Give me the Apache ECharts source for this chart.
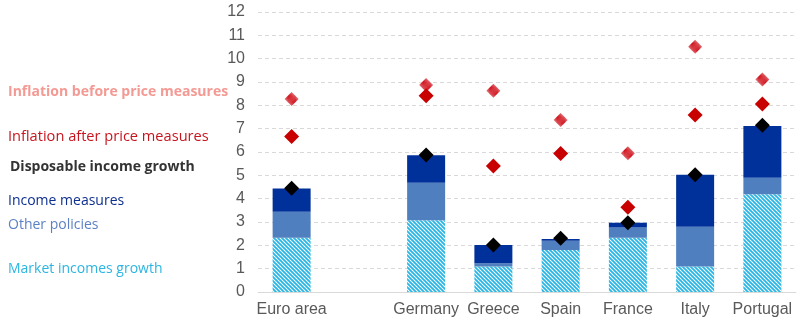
<!DOCTYPE html>
<html><head><meta charset="utf-8">
<script src="https://cdn.jsdelivr.net/npm/echarts@6/dist/echarts.min.js"></script>
<style>html,body{margin:0;padding:0;background:#fff}#c{width:804px;height:325px}</style>
</head><body><div id="c"></div>
<script>
const categories = ['Euro area', '', 'Germany', 'Greece', 'Spain', 'France', 'Italy', 'Portugal'];
const marketIncomes = [2.33, null, 3.07, 1.09, 1.80, 2.33, 1.09, 4.19];
const otherPolicies = [1.11, null, 1.61, 0.14, 0.40, 0.43, 1.71, 0.71];
const incomeMeasures = [1.00, null, 1.18, 0.78, 0.07, 0.21, 2.23, 2.21];
const disposableIncome = [4.45, null, 5.87, 2.01, 2.30, 2.97, 5.03, 7.15];
const inflationAfter = [6.66, null, 8.41, 5.40, 5.94, 3.63, 7.59, 8.06];
const inflationBefore = [8.27, null, 8.87, 8.63, 7.37, 5.95, 10.51, 9.11];
const yTicks = [0,1,2,3,4,5,6,7,8,9,10,11,12];

function stripes(fg, bg, p, lw) {
  const c = document.createElement('canvas');
  c.width = p; c.height = p;
  const g = c.getContext('2d');
  g.fillStyle = bg; g.fillRect(0,0,p,p);
  g.strokeStyle = fg; g.lineWidth = lw;
  g.beginPath();
  g.moveTo(-p,0); g.lineTo(p,2*p);
  g.moveTo(0,0); g.lineTo(p,p);
  g.moveTo(0,-p); g.lineTo(2*p,p);
  g.stroke();
  return {image: c, repeat: 'repeat'};
}
const cyanPattern = stripes('#2bb5e3', '#ffffff', 4, 1.9);
const redPattern = stripes('#d0101a', '#ffffff', 5, 1.6);

const chart = echarts.init(document.getElementById('c'), null, {renderer: 'canvas'});
const legendFont = '"Open Sans", "Noto Sans", sans-serif';
chart.setOption({
  animation: false,
  grid: {left: 258, right: 8, top: 12, bottom: 33},
  xAxis: {
    type: 'category', data: categories,
    axisLine: {lineStyle: {color: '#d9d9d9'}},
    axisTick: {show: false},
    axisLabel: {color: '#595959', fontSize: 16, fontFamily: 'Liberation Sans, Arial', margin: 10, interval: 0}
  },
  yAxis: {
    type: 'value', min: 0, max: 12, interval: 1,
    axisLine: {show: false}, axisTick: {show: false},
    axisLabel: {color: '#595959', fontSize: 16, fontFamily: 'Liberation Sans, Arial', margin: 13,
      formatter: v => yTicks.includes(v) ? String(v) : ''},
    splitLine: {lineStyle: {color: '#d9d9d9', type: [4, 3]}}
  },
  graphic: [
    {type: 'text', left: 8, top: 85, style: {text: 'Inflation before price measures', fill: '#f39a94', font: 'bold 14px ' + legendFont}},
    {type: 'text', left: 8, top: 129, style: {text: 'Inflation after price measures', fill: '#c8141e', font: '14.6px ' + legendFont}},
    {type: 'text', left: 10, top: 160, style: {text: 'Disposable income growth', fill: '#333333', font: 'bold 14px ' + legendFont}},
    {type: 'text', left: 8, top: 194, style: {text: 'Income measures', fill: '#0d2f8f', font: '14px ' + legendFont}},
    {type: 'text', left: 8, top: 218, style: {text: 'Other policies', fill: '#5b82c4', font: '14px ' + legendFont}},
    {type: 'text', left: 8, top: 262, style: {text: 'Market incomes growth', fill: '#2bb5e3', font: '14px ' + legendFont}}
  ],
  series: [
    {name: 'Market incomes growth', type: 'bar', stack: 's', barWidth: 38, data: marketIncomes,
      itemStyle: {color: cyanPattern}},
    {name: 'Other policies', type: 'bar', stack: 's', barWidth: 38, data: otherPolicies,
      itemStyle: {color: '#4f7fbe'}},
    {name: 'Income measures', type: 'bar', stack: 's', barWidth: 38, data: incomeMeasures,
      itemStyle: {color: '#00309a'}},
    {name: 'Inflation before price measures', type: 'scatter', symbol: 'diamond', symbolSize: 14, data: inflationBefore,
      itemStyle: {color: redPattern, opacity: 1}, z: 5},
    {name: 'Inflation after price measures', type: 'scatter', symbol: 'diamond', symbolSize: 15, data: inflationAfter,
      itemStyle: {color: '#c80000', opacity: 1}, z: 5},
    {name: 'Disposable income growth', type: 'scatter', symbol: 'diamond', symbolSize: 15, data: disposableIncome,
      itemStyle: {color: '#000000', opacity: 1}, z: 6}
  ]
});
</script></body></html>
